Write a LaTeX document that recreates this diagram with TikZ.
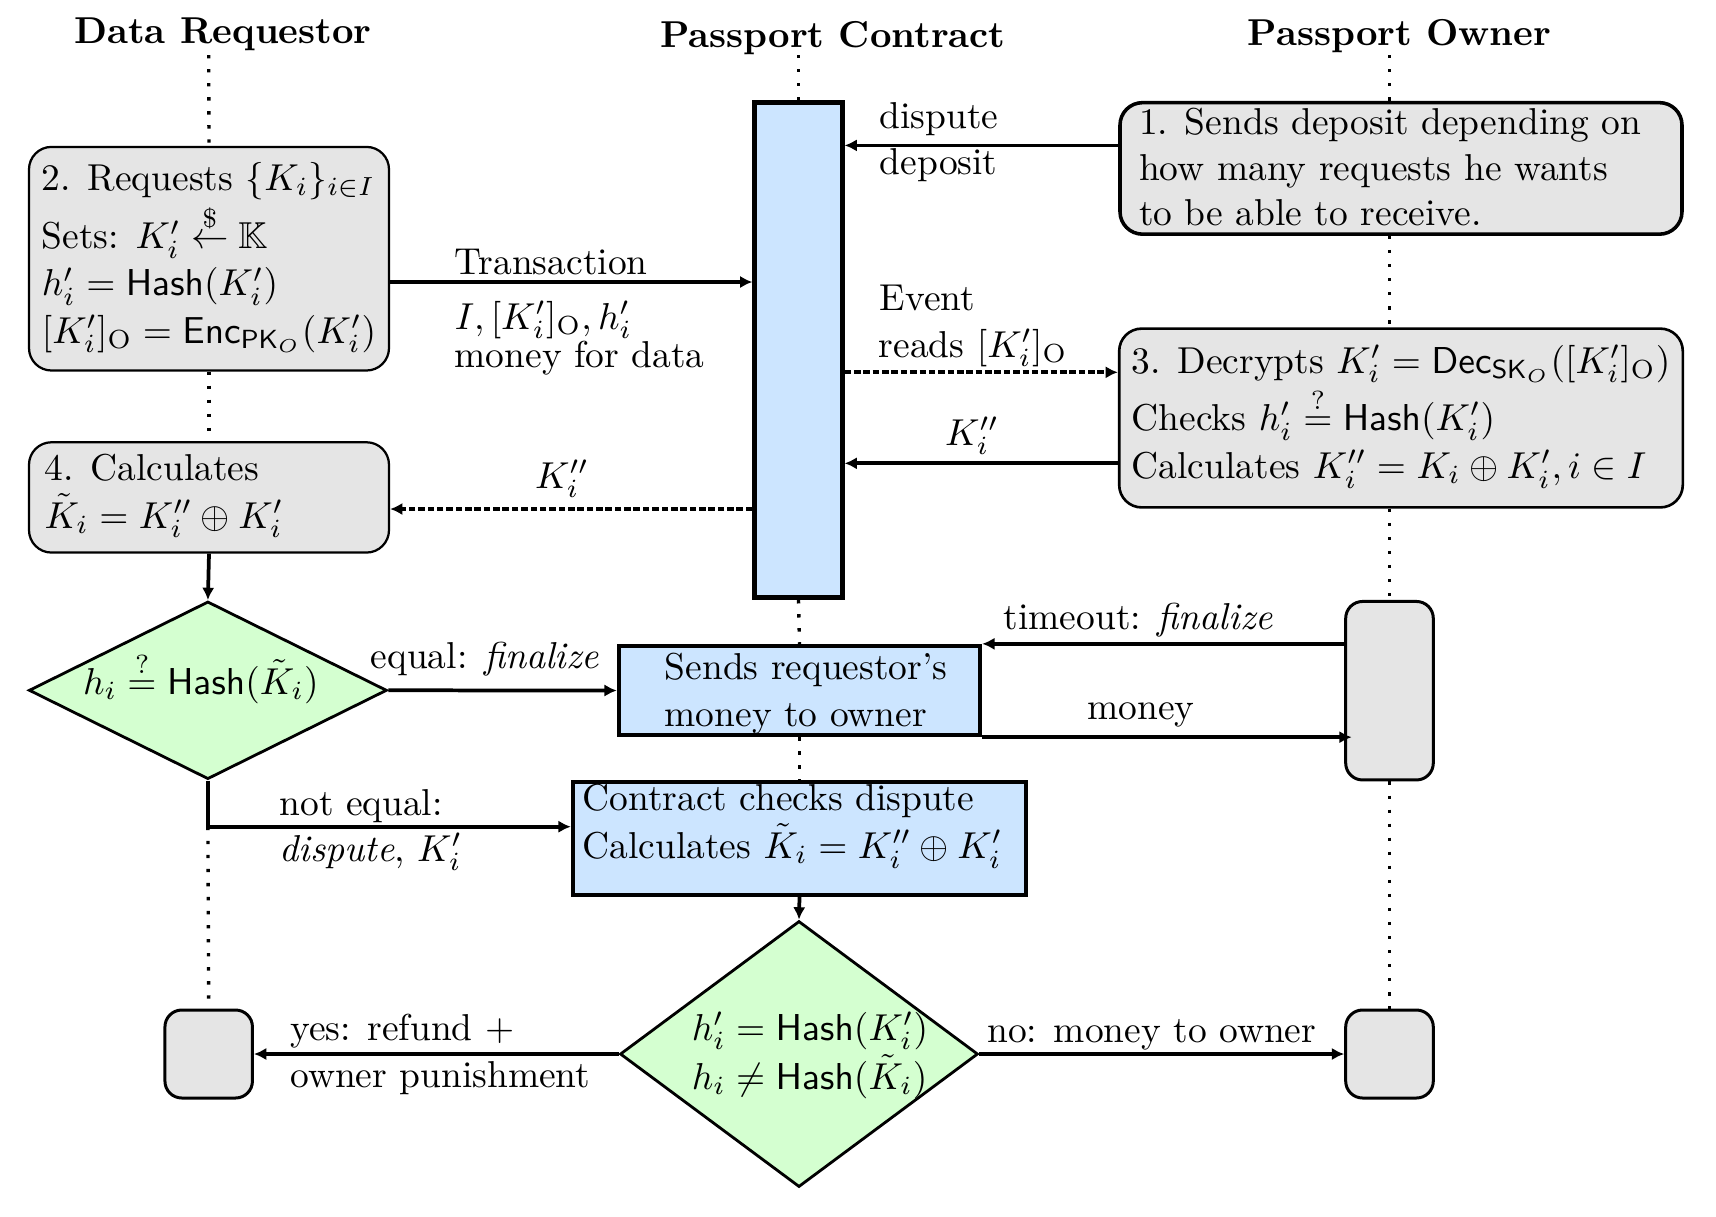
\documentclass[tikz,border=0pt]{standalone}
\usepackage{amsmath,amssymb}
\usetikzlibrary{arrows.meta,shapes.geometric}
\definecolor{bgray}{gray}{0.9}
\definecolor{bblue}{RGB}{204,229,255}
\definecolor{bgreen}{RGB}{212,255,208}
\newcommand{\pxu}{0.267pt}
\begin{document}
\begin{tikzpicture}[x=0.267pt,y=-0.267pt,
  gbox/.style={draw,fill=bgray,rounded corners=6pt,line width=0.7pt,inner sep=0pt},
  bbox/.style={draw,fill=bblue,line width=1pt,inner sep=0pt},
  dbox/.style={draw,fill=bgreen,diamond,line width=0.75pt,inner sep=0pt},
  tx/.style={inner sep=0pt,anchor=base west},
  tc/.style={inner sep=0pt,anchor=base},
  arr/.style={line width=1pt,-{Latex[length=3.3pt,width=3.3pt]}},
  dsh/.style={arr,dash pattern=on 1.75pt off 0.75pt},
  life/.style={line width=0.9pt,dash pattern=on 0.9pt off 2.85pt}]
\fill[white] (0,0) rectangle (1716,1216);
\useasboundingbox (0,0) rectangle (1716,1216);

% titles
\node[tc,font=\bfseries] (h1) at (223,43) {Data Requestor};
\node[tc,font=\bfseries] (h2) at (833,47.8) {Passport Contract};
\node[tc,font=\bfseries] (h3) at (1399.6,45.2) {Passport Owner};

% boxes
\node[bbox,line width=1.25pt,minimum width=87.5*\pxu,minimum height=495.5*\pxu] (con) at (798.5,350) {};
\node[gbox,line width=0.95pt,minimum width=562*\pxu,minimum height=131.5*\pxu] (b1) at (1401,168.4) {};
\node[gbox,minimum width=563.6*\pxu,minimum height=178.8*\pxu] (b3) at (1401,418) {};
\node[gbox,line width=0.6pt,minimum width=360*\pxu,minimum height=223.6*\pxu] (b2) at (209,258.7) {};
\node[gbox,line width=0.6pt,minimum width=360*\pxu,minimum height=110.3*\pxu] (b4) at (209,497.4) {};
\node[dbox,minimum width=358*\pxu,minimum height=177.7*\pxu] (d1) at (207.9,690.3) {};
\node[bbox,minimum width=361.7*\pxu,minimum height=89.6*\pxu] (send) at (799.5,690.5) {};
\node[bbox,minimum width=453.6*\pxu,minimum height=113.3*\pxu] (chk) at (799.5,838.35) {};
\node[dbox,minimum width=358*\pxu,minimum height=266*\pxu] (d2) at (799,1054) {};
\node[gbox,rounded corners=4.5pt,line width=0.8pt,minimum width=87.5*\pxu,minimum height=88*\pxu] (sq1) at (208.7,1054) {};
\node[gbox,rounded corners=4.5pt,line width=0.8pt,minimum width=87.6*\pxu,minimum height=178.5*\pxu] (ow) at (1389.5,690.7) {};
\node[gbox,rounded corners=4.5pt,line width=0.8pt,minimum width=87.6*\pxu,minimum height=88*\pxu] (sq2) at (1389.5,1054) {};

% lifelines
\coordinate (rqtop) at (208.7,55);
\coordinate (cttop) at (798.5,55);
\coordinate (owtop) at (1389.5,55);
\draw[life] (rqtop) -- (b2.north);
\draw[life] (b2.south) -- (b4.north);
\draw[life] (d1.south |- 0,826.7) -- (sq1.north);
\draw[life] (cttop) -- (con.north);
\draw[life] (con.south) -- (send.north);
\draw[life] (send.south) -- (chk.north);
\draw[life] (owtop) -- (owtop |- b1.north);
\draw[life] (owtop |- b1.south) -- (owtop |- b3.north);
\draw[life] (owtop |- b3.south) -- (ow.north);
\draw[life] (ow.south) -- (sq2.north);

% box texts
\node[tx] (t1a) at (1138.4,134) {1. Sends deposit depending on};
\node[tx] (t1b) at (1138.4,180) {how many requests he wants};
\node[tx] (t1c) at (1138.4,225.5) {to be able to receive.};
\node[tx] (t2a) at (41.1,190.2) {2. Requests $\{K_i\}_{i\in I}$};
\node[tx] (t2b) at (41.1,248.7) {Sets: $K'_i \stackrel{\$}{\leftarrow} \mathbb{K}$};
\node[tx] (t2c) at (41.1,295.8) {$h'_i = \mathsf{Hash}(K'_i)$};
\node[tx] (t2d) at (41.1,343.2) {$[K'_i]_\mathrm{O} = \mathsf{Enc}_{\mathsf{PK}_O}(K'_i)$};
\node[tx] (t3a) at (1131,373) {3. Decrypts $K'_i = \mathsf{Dec}_{\mathsf{SK}_O}([K'_i]_\mathrm{O})$};
\node[tx] (t3b) at (1131,430.5) {Checks $h'_i \stackrel{?}{=} \mathsf{Hash}(K'_i)$};
\node[tx] (t3c) at (1131,478.3) {Calculates $K''_i = K_i \oplus K'_i, i \in I$};
\node[tx] (t4a) at (43.9,480.2) {4. Calculates};
\node[tx] (t4b) at (43.9,528) {$\tilde{K}_i = K''_i \oplus K'_i$};
\node[tx] (td1) at (82.3,694.3) {$h_i \stackrel{?}{=} \mathsf{Hash}(\tilde{K}_i)$};
\node[tx] (tsa) at (664,679.3) {Sends requestor's};
\node[tx] (tsb) at (664,726.7) {money to owner};
\node[tx] (tca) at (581.7,810) {Contract checks dispute};
\node[tx] (tcb) at (581.7,858.3) {Calculates $\tilde{K}_i = K''_i \oplus K'_i$};
\node[tx] (td2a) at (691,1040) {$h'_i = \mathsf{Hash}(K'_i)$};
\node[tx] (td2b) at (691,1089) {$h_i \neq \mathsf{Hash}(\tilde{K}_i)$};

% connectors
\draw[arr] (b1.west |- 0,145.4) -- (con.east |- 0,145.4);
\draw[arr,line width=1.2pt] (b2.east |- 0,282) -- (con.west |- 0,282);
\draw[dsh] (con.east |- 0,372.3) -- (b3.west |- 0,372.3);
\draw[arr] (b3.west |- 0,463.3) -- (con.east |- 0,463.3);
\draw[dsh] (con.west |- 0,509) -- (b4.east |- 0,509);
\draw[arr] (b4.south) -- (d1.north);
\draw[arr] (d1.east) -- (send.west);
\draw[arr] (ow.west |- send.north east) -- (send.north east);
\draw[arr,shorten >=-2pt] (send.south east) -- (ow.west |- send.south east);
\draw[arr] (d1.south) |- (chk.west |- 0,826.7);
\draw[arr] (chk.south) -- (d2.north);
\draw[arr] (d2.west) -- (sq1.east);
\draw[arr] (d2.east) -- (sq2.west);

% connector labels
\node[tx] (l1a) at (879,128.2) {dispute};
\node[tx] (l1b) at (879,174.1) {deposit};
\node[tx] (l2a) at (454,274.8) {Transaction};
\node[tx] (l2b) at (454,329) {$I, [K'_i]_\mathrm{O}, h'_i$};
\node[tx] (l2c) at (454,367.4) {money for data};
\node[tx] (l3a) at (879,310) {Event};
\node[tx] (l3b) at (878,357) {reads $[K'_i]_\mathrm{O}$};
\node[tc] (l4) at (972,445) {$K''_i$};
\node[tc] (l5) at (562,488) {$K''_i$};
\node[tx] (l6) at (370,668.8) {equal: \textit{finalize}};
\node[tx] (l7) at (1003,629.5) {timeout: \textit{finalize}};
\node[tc] (l8) at (1141,719.8) {money};
\node[tx] (l9a) at (278.7,815) {not equal:};
\node[tx] (l9b) at (278.7,861) {\textit{dispute}, $K'_i$};
\node[tx] (l10a) at (289.6,1040) {yes: refund +};
\node[tx] (l10b) at (289.6,1087) {owner punishment};
\node[tx] (l11) at (986.6,1042) {no: money to owner};
\end{tikzpicture}
\end{document}
